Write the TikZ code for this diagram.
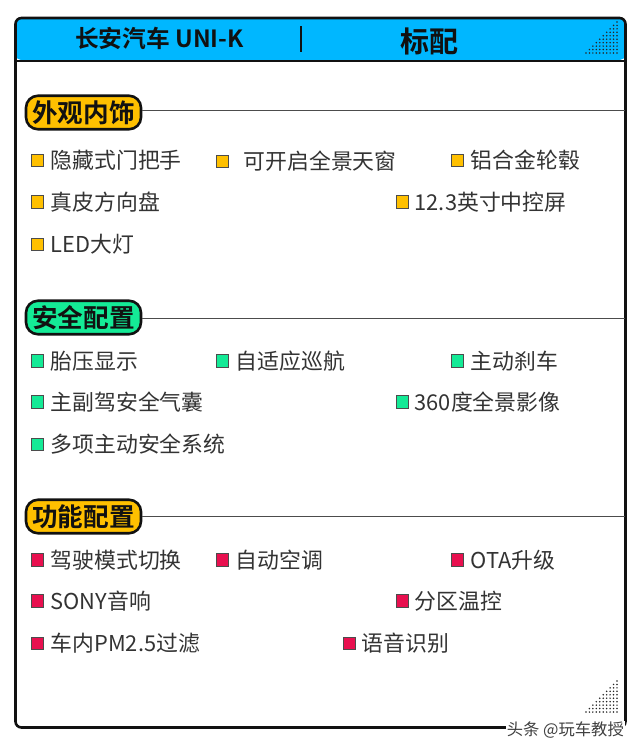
\documentclass[tikz,border=0pt]{standalone}
\usepackage{fontspec}
\setmainfont{Noto Sans CJK SC}
\newfontfamily\boldcjk{Noto Sans CJK SC Bold}
\definecolor{headblue}{HTML}{00B7FF}
\definecolor{amberc}{HTML}{FFC000}
\definecolor{greenc}{HTML}{14EA96}
\definecolor{redc}{HTML}{E8104F}
\definecolor{ink}{HTML}{111111}
\definecolor{txt}{HTML}{333333}
\tikzset{
  x=1pt,y=-1pt,
  pill/.style={draw=ink,line width=2.6pt,rounded corners=12pt,minimum width=115pt,minimum height=33.5pt,inner sep=0pt,font=\boldcjk\fontsize{25.6}{26}\selectfont,text=ink},
  rule/.style={draw=black!70,line width=0.8pt},
  item/.style={anchor=west,inner sep=0pt,text=txt,font=\fontsize{21.85}{24}\selectfont},
  bul/.style={draw=black!70,line width=0.7pt,minimum size=12.5pt,inner sep=0pt},
}
\newcommand{\bitem}[6]{%
  \node[bul,fill=#5] (b#6) at (#1+6.5,#3) {};
  \node[item] (t#6) at (#2,#3) {#4};
}
\begin{document}
\begin{tikzpicture}
\useasboundingbox (0,0) rectangle (640,753);
\fill[white] (0,0) rectangle (640,753);
% header band and frame
\fill[headblue,rounded corners=5pt] (16,18) rectangle (625,60);
\draw[ink,line width=2pt] (15,60.5) -- (626,60.5);
\draw[ink,line width=2.6pt,rounded corners=6pt] (15.5,18) rectangle (625.5,727.5);
\draw[ink,line width=1.4pt] (301,26) -- (301,52);
\node[inner sep=0pt,text=ink,font=\boldcjk\fontsize{23.7}{24}\selectfont] (brand) at (159.5,38) {长安汽车 UNI-K};
\node[inner sep=0pt,text=ink,font=\boldcjk\fontsize{29}{30}\selectfont] (trim) at (429.5,41) {标配};
% dotted corners
\foreach \ox/\oy in {617/53,617/712}{
  \foreach \i in {0,...,9}{
    \foreach \j in {0,...,\i}{
      \fill[black!85] (\ox-9*3.45+\i*3.45,\oy-\j*3.45) circle (0.85);
    }
  }
}
% section lines and pills
\coordinate (e1) at (625,110.5);
\coordinate (e2) at (625,318);
\coordinate (e3) at (625,516);
\node[pill,fill=amberc] (s1) at (83.5,112.5) {外观内饰};
\node[pill,fill=greenc] (s2) at (83.5,317.5) {安全配置};
\node[pill,fill=amberc] (s3) at (83.5,516.5) {功能配置};
\draw[rule] (s1.east |- e1) -- (e1);
\draw[rule] (s2.east |- e2) -- (e2);
\draw[rule] (s3.east |- e3) -- (e3);
% section 1
\bitem{31}{50.5}{160.5}{隐藏式门把手}{amberc}{a}
\bitem{216}{243.5}{161.5}{可开启全景天窗}{amberc}{b}
\bitem{451}{470.5}{160.5}{铝合金轮毂}{amberc}{c}
\bitem{31}{50.5}{202}{真皮方向盘}{amberc}{d}
\bitem{396}{414.5}{202}{12.3英寸中控屏}{amberc}{e}
\bitem{31}{50.5}{244.5}{LED大灯}{amberc}{f}
% section 2
\bitem{31}{50.5}{361}{胎压显示}{greenc}{g}
\bitem{216}{235.5}{361}{自适应巡航}{greenc}{h}
\bitem{451}{470.5}{361}{主动刹车}{greenc}{i}
\bitem{31}{50.5}{402}{主副驾安全气囊}{greenc}{j}
\bitem{396}{414.5}{402}{360度全景影像}{greenc}{k}
\bitem{31}{50.5}{444.5}{多项主动安全系统}{greenc}{l}
% section 3
\bitem{31}{50.5}{560}{驾驶模式切换}{redc}{m}
\bitem{216}{235.5}{560}{自动空调}{redc}{n}
\bitem{451}{470.5}{560}{OTA升级}{redc}{o}
\bitem{31}{50.5}{601}{SONY音响}{redc}{p}
\bitem{396}{414.5}{601}{分区温控}{redc}{q}
\bitem{31}{50.5}{643.5}{车内PM2.5过滤}{redc}{r}
\bitem{343}{361.5}{643.5}{语音识别}{redc}{s}
% watermark
\node[anchor=east,inner sep=1pt,fill=white,text=black!75,font=\fontsize{16.3}{17}\selectfont] (wm) at (625,730) {头条 @玩车教授};
\end{tikzpicture}
\end{document}
